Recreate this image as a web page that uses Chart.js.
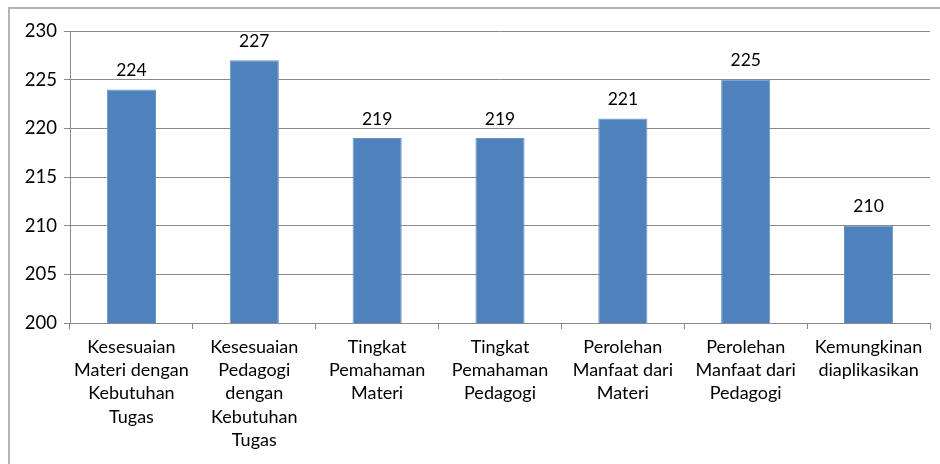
<!DOCTYPE html>
<html>
<head>
<meta charset="utf-8">
<script src="https://cdn.jsdelivr.net/npm/chart.js@4.4.1/dist/chart.umd.min.js"></script>
<style>
  html, body { margin: 0; padding: 0; background: #fff; }
  #wrap { width: 940px; height: 464px; position: relative; }
</style>
</head>
<body>
<div id="wrap"><canvas id="c" width="940" height="464"></canvas></div>
<script>
const categories = [
  ["Kesesuaian", "Materi dengan", "Kebutuhan", "Tugas"],
  ["Kesesuaian", "Pedagogi", "dengan", "Kebutuhan", "Tugas"],
  ["Tingkat", "Pemahaman", "Materi"],
  ["Tingkat", "Pemahaman", "Pedagogi"],
  ["Perolehan", "Manfaat dari", "Materi"],
  ["Perolehan", "Manfaat dari", "Pedagogi"],
  ["Kemungkinan", "diaplikasikan"]
];
const values = [224, 227, 219, 219, 221, 225, 210];
const yMin = 200, yMax = 230, yStep = 5;

const FONT = "Lato, 'Open Sans', sans-serif";

const frame = {
  id: 'frame',
  beforeDraw(chart) {
    const ctx = chart.ctx;
    ctx.save();
    ctx.fillStyle = '#fff';
    ctx.fillRect(0, 0, chart.width, chart.height);
    ctx.strokeStyle = '#b4b4b4';
    ctx.lineWidth = 2;
    ctx.beginPath();
    ctx.moveTo(9, chart.height);
    ctx.lineTo(9, 8);
    ctx.lineTo(chart.width, 8);
    ctx.stroke();
    ctx.restore();
  }
};

const valueLabels = {
  id: 'valueLabels',
  afterDatasetsDraw(chart) {
    const ctx = chart.ctx;
    const meta = chart.getDatasetMeta(0);
    ctx.save();
    ctx.font = "17.5px " + FONT;
    ctx.fillStyle = '#000';
    ctx.textAlign = 'center';
    ctx.textBaseline = 'middle';
    meta.data.forEach((bar, i) => {
      ctx.fillText(String(chart.data.datasets[0].data[i]), bar.x, bar.y - 19);
    });
    ctx.restore();
  }
};

new Chart(document.getElementById('c'), {
  type: 'bar',
  data: {
    labels: categories,
    datasets: [{
      data: values,
      backgroundColor: '#4f81bd',
      borderColor: '#6a93c6',
      borderWidth: 1,
      barPercentage: 0.4,
      categoryPercentage: 1.0
    }]
  },
  options: {
    responsive: false,
    animation: false,
    devicePixelRatio: 1,
    layout: { padding: { top: 31, right: 10, left: 0, bottom: 0 } },
    plugins: { legend: { display: false }, tooltip: { enabled: false } },
    scales: {
      y: {
        min: yMin, max: yMax,
        ticks: { stepSize: yStep, color: '#000', font: { family: FONT, size: 18.5 }, padding: 7 },
        grid: { color: '#8a8a8a', lineWidth: 1, tickLength: 6, drawTicks: true },
        border: { color: '#8a8a8a', width: 1 },
        afterFit(s) { s.width = 70; }
      },
      x: {
        ticks: { color: '#000', font: { family: FONT, size: 18, lineHeight: 1.3 }, padding: 6, maxRotation: 0, autoSkip: false },
        grid: { display: true, drawOnChartArea: false, drawTicks: true, tickLength: 6, color: '#8a8a8a', offset: true },
        border: { color: '#8a8a8a', width: 1 },
        afterFit(s) { s.height = 141; }
      }
    }
  },
  plugins: [frame, valueLabels]
});
</script>
</body>
</html>
